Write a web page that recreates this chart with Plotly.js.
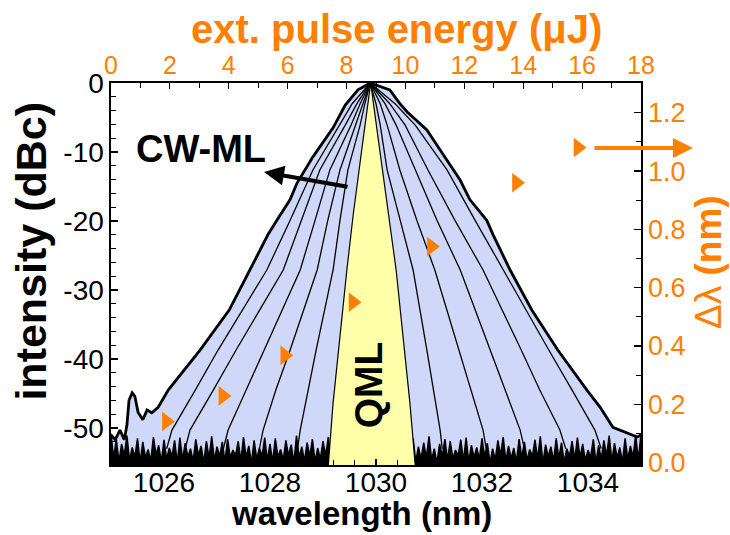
<!DOCTYPE html>
<html>
<head>
<meta charset="utf-8">
<script src="https://cdn.plot.ly/plotly-3.0.1.min.js"></script>
<style>html,body{margin:0;padding:0;background:#fff;}#chart{width:730px;height:535px;}</style>
</head>
<body>
<div id="chart"></div>
<script>
// ---------- tick labels ----------
const wlTickVals = [1026, 1028, 1030, 1032, 1034];
const dbTickVals = [0, -10, -20, -30, -40, -50];
const dbTickText = ['0', '-10', '-20', '-30', '-40', '-50'];
const energyTickVals = [0, 2, 4, 6, 8, 10, 12, 14, 16, 18];
const dlTickVals = [0, 0.2, 0.4, 0.6, 0.8, 1.0, 1.2];
const dlTickText = ['0.0', '0.2', '0.4', '0.6', '0.8', '1.0', '1.2'];

// ---------- pulse energy vs spectral width (orange triangles) ----------
const pulseEnergy = [1.88, 3.80, 5.90, 8.22, 10.88, 13.77, 15.86];
const deltaLambda = [0.141, 0.229, 0.368, 0.550, 0.741, 0.960, 1.081];

// ---------- CW-ML spectra (outermost A ... innermost F) ----------
const specA_wl = [1025.00, 1025.08, 1025.17, 1025.25, 1025.30, 1025.34, 1025.40, 1025.45, 1025.51, 1025.60, 1025.68, 1025.77, 1025.89, 1026.08, 1026.68, 1027.23, 1027.62, 1027.96, 1028.13, 1028.38, 1028.51, 1028.66, 1028.81, 1029.19, 1029.42, 1029.66, 1029.89, 1030.26, 1030.45, 1030.59, 1030.96, 1031.21, 1031.59, 1031.77, 1032.09, 1032.21, 1032.53, 1032.94, 1033.43, 1033.98, 1034.23, 1034.47, 1034.70, 1034.93, 1035.00];
const specA_db = [-51.0, -51.7, -50.3, -51.7, -49.6, -46.0, -44.9, -45.4, -47.7, -48.8, -47.4, -47.8, -47.0, -44.5, -38.7, -32.9, -27.1, -22.0, -19.9, -16.9, -14.5, -12.6, -10.7, -6.5, -3.2, -1.0, 0, -1.0, -3.0, -4.2, -6.8, -9.7, -14.1, -16.9, -19.9, -22.0, -27.1, -32.9, -38.7, -44.5, -47.0, -49.9, -50.6, -51.3, -51.0];

const specB_wl = [1026.05, 1026.15, 1026.59, 1027.02, 1027.94, 1028.38, 1028.81, 1029.32, 1029.55, 1029.89, 1030.36, 1030.74, 1031.34, 1031.87, 1032.40, 1033.26, 1033.70, 1034.13, 1034.25];
const specB_db = [-53.0, -50.3, -44.5, -38.7, -27.1, -19.9, -12.6, -6.1, -3.0, 0, -3.0, -6.1, -12.6, -19.9, -27.1, -38.7, -44.5, -50.3, -53.0];

const specC_wl = [1026.40, 1026.49, 1026.93, 1027.36, 1028.25, 1028.59, 1028.94, 1029.42, 1029.64, 1029.89, 1030.26, 1030.55, 1030.98, 1031.49, 1032.02, 1032.74, 1033.09, 1033.47, 1033.58];
const specC_db = [-53.0, -50.3, -44.5, -38.7, -27.1, -19.9, -12.6, -6.1, -3.0, 0, -3.0, -6.1, -12.6, -19.9, -27.1, -38.7, -44.5, -50.3, -53.0];

const specD_wl = [1027.12, 1027.21, 1027.55, 1027.89, 1028.57, 1028.85, 1029.13, 1029.53, 1029.70, 1029.89, 1030.17, 1030.38, 1030.74, 1031.15, 1031.59, 1032.15, 1032.43, 1032.72, 1032.80];
const specD_db = [-53.0, -50.3, -44.5, -38.7, -27.1, -19.9, -12.6, -6.1, -3.0, 0, -3.0, -6.1, -12.6, -19.9, -27.1, -38.7, -44.5, -50.3, -53.0];

const specE_wl = [1027.80, 1027.87, 1028.11, 1028.38, 1028.89, 1029.09, 1029.32, 1029.62, 1029.76, 1029.89, 1030.08, 1030.21, 1030.45, 1030.77, 1031.11, 1031.57, 1031.79, 1032.02, 1032.08];
const specE_db = [-53.0, -50.3, -44.5, -38.7, -27.1, -19.9, -12.6, -6.1, -3.0, 0, -3.0, -6.1, -12.6, -19.9, -27.1, -38.7, -44.5, -50.3, -53.0];

const specF_wl = [1028.52, 1028.57, 1028.72, 1028.87, 1029.19, 1029.32, 1029.47, 1029.70, 1029.79, 1029.89, 1030.00, 1030.08, 1030.21, 1030.45, 1030.70, 1030.96, 1031.08, 1031.21, 1031.25];
const specF_db = [-53.0, -50.3, -44.5, -38.7, -27.1, -19.9, -12.6, -6.1, -3.0, 0, -3.0, -6.1, -12.6, -19.9, -27.1, -38.7, -44.5, -50.3, -53.0];

// ---------- QML spectrum (yellow) ----------
const qml_wl = [1029.10, 1029.19, 1029.45, 1029.57, 1029.76, 1029.90, 1030.04, 1030.23, 1030.38, 1030.64, 1030.74];
const qml_db = [-55.4, -46.4, -27.1, -19.1, -8.0, 0, -8.0, -19.1, -27.1, -46.4, -55.4];

// ---------- OSA noise floor (samples every 0.05 nm from 1025 nm) ----------
const floorStart = 1025.0;
const floorStep = 0.05;
const floor_db = [
-50.8,-54.4,-51.6,-54.9,-52.3,-54.0,-51.1,-54.7,-52.8,-54.2,
-51.5,-55.0,-52.0,-54.3,-53.1,-54.8,-51.3,-53.9,-52.5,-54.9,
-51.7,-54.5,-52.9,-54.1,-51.8,-55.1,-51.4,-54.6,-52.2,-54.2,
-53.0,-54.8,-51.6,-54.0,-52.6,-55.0,-51.9,-54.4,-51.2,-54.7,
-52.7,-54.1,-52.0,-54.9,-51.6,-54.3,-53.2,-54.0,-51.9,-54.8,
-51.3,-54.2,-52.6,-55.1,-51.8,-54.5,-52.9,-54.1,-51.4,-54.7,
-52.3,-54.9,-51.5,-54.2,-53.1,-54.6,-51.8,-54.0,-52.4,-55.0,
-51.1,-54.3,-52.7,-54.8,-52.1,-54.1,-51.6,-54.9,-52.9,-54.5,
-51.9,-54.0,-51.3,-54.7,-52.5,-55.1,-52.8,-54.2,-51.5,-54.6,
-52.2,-54.1,-53.0,-54.9,-51.7,-54.5,-51.4,-54.8,-52.6,-54.0,
-52.9,-54.7,-51.6,-54.2,-52.0,-55.0,-51.3,-54.4,-53.1,-54.1,
-51.8,-54.8,-52.4,-54.0,-51.5,-54.9,-52.7,-54.5,-52.1,-54.3,
-51.2,-54.6,-53.0,-55.1,-52.3,-54.1,-51.6,-54.7,-51.9,-54.4,
-53.2,-54.0,-51.7,-54.8,-51.4,-54.9,-52.5,-54.3,-52.8,-54.5,
-51.5,-54.2,-52.2,-55.0,-53.0,-54.6,-51.8,-54.0,-51.3,-54.8,
-52.6,-54.4,-52.9,-54.9,-51.6,-54.3,-52.0,-54.7,-53.1,-54.1,
-51.7,-54.5,-51.2,-55.1,-52.4,-54.2,-52.7,-54.8,-51.5,-54.4,
-52.1,-54.9,-53.0,-54.1,-51.9,-54.6,-51.4,-54.3,-52.3,-54.7,
-53.2,-54.2,-51.6,-55.0,-52.5,-54.5,-51.8,-54.0,-51.1,-54.8,
-52.2,-54.3,-52.8,-54.9,-51.5,-54.5,-52.6,-54.2,-51.0,-54.7,
-50.8];

// ---------- styling ----------
const FONT = 'Liberation Sans, Arial, sans-serif';
const ORANGE = '#ff7f00';
const BLUE = '#cfd8f8';
const YELLOW = '#ffffaa';
const BOTTOM = -60;

const spectra = [
  {wl: specA_wl, db: specA_db, w: 2.8},
  {wl: specB_wl, db: specB_db, w: 1.3},
  {wl: specC_wl, db: specC_db, w: 1.3},
  {wl: specD_wl, db: specD_db, w: 1.3},
  {wl: specE_wl, db: specE_db, w: 1.3},
  {wl: specF_wl, db: specF_db, w: 1.3}
];

const traces = [];
// blue fills
spectra.forEach(s => {
  traces.push({
    x: s.wl.concat([s.wl[s.wl.length - 1], s.wl[0]]),
    y: s.db.concat([BOTTOM, BOTTOM]),
    type: 'scatter', mode: 'lines', fill: 'toself', fillcolor: BLUE,
    line: {width: 0, color: BLUE}, hoverinfo: 'skip', showlegend: false
  });
});
// noise floor
const floor_wl = floor_db.map((_, i) => floorStart + i * floorStep);
traces.push({
  x: floor_wl.concat([floor_wl[floor_wl.length - 1], floor_wl[0]]),
  y: floor_db.concat([BOTTOM, BOTTOM]),
  type: 'scatter', mode: 'lines', fill: 'toself', fillcolor: '#000',
  line: {width: 1.5, color: '#000'}, hoverinfo: 'skip', showlegend: false
});
// black outlines
spectra.forEach(s => {
  traces.push({
    x: s.wl, y: s.db, type: 'scatter', mode: 'lines',
    line: {width: s.w, color: '#000'}, hoverinfo: 'skip', showlegend: false
  });
});
// QML spectrum
traces.push({
  x: qml_wl.concat([qml_wl[qml_wl.length - 1], qml_wl[0]]),
  y: qml_db.concat([BOTTOM, BOTTOM]),
  type: 'scatter', mode: 'lines', fill: 'toself', fillcolor: YELLOW,
  line: {width: 1.2, color: '#000'}, hoverinfo: 'skip', showlegend: false
});
// pulse energy markers
traces.push({
  x: pulseEnergy, y: deltaLambda, xaxis: 'x2', yaxis: 'y2',
  type: 'scatter', mode: 'markers',
  marker: {symbol: 'triangle-right', size: 17, color: ORANGE, line: {width: 0}},
  showlegend: false
});

const axLine = {showline: true, linecolor: '#000', linewidth: 1.6, showgrid: false, zeroline: false, automargin: false};

const layout = {
  width: 730, height: 535,
  margin: {l: 111, r: 89, t: 83, b: 70, pad: 0},
  paper_bgcolor: '#fff', plot_bgcolor: '#fff',
  font: {family: FONT, color: '#000'},
  showlegend: false,
  xaxis: Object.assign({}, axLine, {
    range: [1025, 1035], tickmode: 'array', tickvals: wlTickVals,
    ticks: 'inside', ticklen: 6, tickwidth: 1.2, tickcolor: '#000', ticklabelstandoff: -8,
    minor: {tickmode: 'linear', tick0: 1025.2, dtick: 0.4, ticks: 'inside', ticklen: 5, tickwidth: 1, tickcolor: '#000'},
    tickfont: {size: 28, color: '#000', family: FONT}
  }),
  yaxis: Object.assign({}, axLine, {
    range: [-55.36, 0], tickmode: 'array', tickvals: dbTickVals, ticktext: dbTickText,
    ticks: 'inside', ticklen: 7, tickwidth: 1.2, tickcolor: '#000',
    minor: {tickmode: 'linear', tick0: 0, dtick: 2, ticks: 'inside', ticklen: 5, tickwidth: 1, tickcolor: '#000'},
    tickfont: {size: 28, color: '#000', family: FONT}
  }),
  xaxis2: Object.assign({}, axLine, {
    overlaying: 'x', side: 'top', anchor: 'y',
    range: [0, 18], tickmode: 'array', tickvals: energyTickVals,
    ticks: 'inside', ticklen: 6, tickwidth: 1.2, tickcolor: '#000', ticklabelstandoff: -3,
    minor: {tickmode: 'linear', tick0: 0, dtick: 1, ticks: 'inside', ticklen: 5, tickwidth: 1, tickcolor: '#000'},
    tickfont: {size: 25, color: ORANGE, family: FONT}
  }),
  yaxis2: Object.assign({}, axLine, {
    overlaying: 'y', side: 'right', anchor: 'x',
    range: [-0.008, 1.302], tickmode: 'array', tickvals: dlTickVals, ticktext: dlTickText,
    ticks: 'inside', ticklen: 7, tickwidth: 1.2, tickcolor: '#000',
    minor: {tickmode: 'linear', tick0: 0, dtick: 0.1, ticks: 'inside', ticklen: 5, tickwidth: 1, tickcolor: '#000'},
    tickfont: {size: 27, color: ORANGE, family: FONT}
  }),
  annotations: [
    // axis titles
    {xref: 'paper', yref: 'paper', x: 0.4717, y: -0.1265, text: '<b>wavelength (nm)</b>', showarrow: false,
     font: {size: 33, color: '#000', family: FONT}, xanchor: 'center', yanchor: 'middle'},
    {xref: 'paper', yref: 'paper', x: 0.5396, y: 1.1411, text: '<b>ext. pulse energy (μJ)</b>', showarrow: false,
     font: {size: 40, color: ORANGE, family: FONT}, xanchor: 'center', yanchor: 'middle'},
    {xref: 'paper', yref: 'paper', x: -0.1500, y: 0.5600, text: '<b>intensity (dBc)</b>', showarrow: false, textangle: -90,
     font: {size: 43, color: '#000', family: FONT}, xanchor: 'center', yanchor: 'middle'},
    {xref: 'paper', yref: 'paper', x: 1.1264, y: 0.5314, text: 'Δλ <b>(nm)</b>', showarrow: false, textangle: -90,
     font: {size: 37, color: ORANGE, family: FONT}, xanchor: 'center', yanchor: 'middle'},
    // in-plot labels
    {xref: 'paper', yref: 'paper', x: 0.170, y: 0.827, text: '<b>CW-ML</b>', showarrow: false,
     font: {size: 38, color: '#000', family: FONT}, xanchor: 'center', yanchor: 'middle'},
    {xref: 'paper', yref: 'paper', x: 0.485, y: 0.209, text: '<b>QML</b>', showarrow: false, textangle: -90,
     font: {size: 39, color: '#000', family: FONT}, xanchor: 'center', yanchor: 'middle'},
    {xref: 'paper', yref: 'paper', x: 0.2887, y: 0.767, ax: 85, ay: 15, text: '', showarrow: true,
     arrowhead: 2, arrowsize: 1, arrowwidth: 4, arrowcolor: '#000'},
    {xref: 'paper', yref: 'paper', x: 1.098, y: 0.830, ax: -100, ay: 0, text: '', showarrow: true,
     arrowhead: 2, arrowsize: 1, arrowwidth: 4, arrowcolor: ORANGE}
  ]
};

Plotly.newPlot('chart', traces, layout, {staticPlot: true, displayModeBar: false});
</script>
</body>
</html>
